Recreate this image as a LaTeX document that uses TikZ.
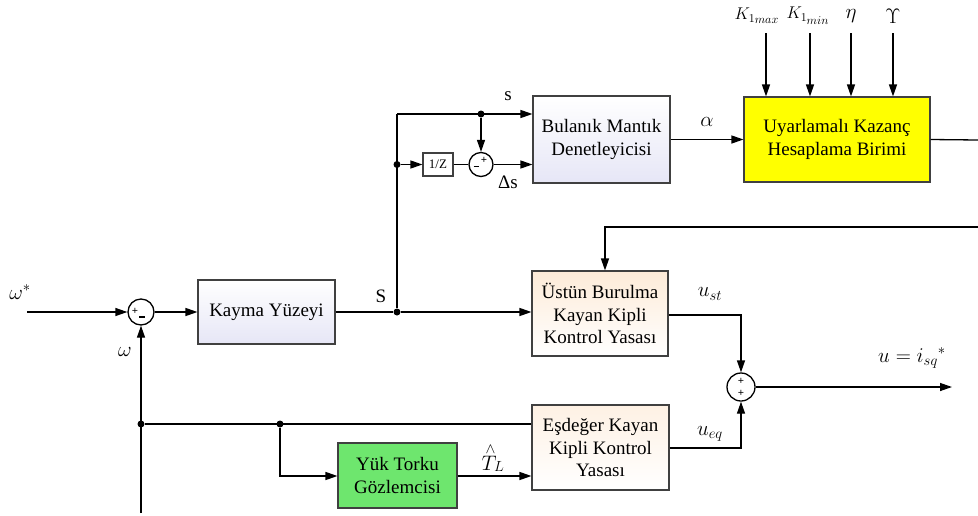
\documentclass[tikz,border=0pt]{standalone}
\usepackage{fix-cm}
\usepackage{fontspec}
\setmainfont{Liberation Serif}
\usetikzlibrary{arrows.meta,shapes.geometric,calc}
\definecolor{lav}{HTML}{E6E6F6}
\definecolor{peach}{HTML}{FDEBD8}
\definecolor{yel}{HTML}{FFFF00}
\definecolor{grn}{HTML}{6EE66E}
\begin{document}
\begin{tikzpicture}[x=1pt,y=-1pt,
  conn/.style={line width=1.3pt},
  arr/.style={conn,-{Triangle[length=12pt,width=8pt]}},
  blk/.style={draw=black!75,line width=1.1pt,align=center,inner sep=2pt,
    font=\fontsize{19}{22.5}\selectfont},
  sumc/.style={circle,draw,line width=1.3pt,inner sep=0pt},
  dot/.style={circle,fill,inner sep=0pt,minimum size=7pt},
  lbl/.style={font=\fontsize{19}{22}\selectfont,inner sep=0pt},
  klbl/.style={font=\fontsize{17}{20}\selectfont,inner sep=0pt},
  mlbl/.style={font=\fontsize{21}{24}\selectfont,inner sep=0pt},
  sgn/.style={font=\fontsize{11}{11}\selectfont\bfseries,inner sep=0pt}]
\useasboundingbox (0,0) rectangle (978,515);

% blocks
\node[blk,minimum width=137pt,minimum height=64pt,top color=white,bottom color=lav] (kayma) at (266.5,312) {Kayma Yüzeyi};
\node[blk,minimum width=137pt,minimum height=87pt,top color=white,bottom color=lav] (bulanik) at (601.5,139.5) {Bulanık Mantık\\Denetleyicisi};
\node[blk,minimum width=186pt,minimum height=85pt,fill=yel] (uyar) at (837,139.5) {Uyarlamalı Kazanç\\Hesaplama Birimi};
\node[blk,minimum width=136pt,minimum height=85pt,top color=peach,bottom color=white] (ustun) at (600,313.5) {Üstün Burulma\\Kayan Kipli\\Kontrol Yasası};
\node[blk,minimum width=137pt,minimum height=85pt,top color=peach!70,bottom color=white] (esd) at (600.5,447.5) {Eşdeğer Kayan\\Kipli Kontrol\\Yasası};
\node[blk,minimum width=119pt,minimum height=65pt,fill=grn] (yuk) at (397.5,475.5) {Yük Torku\\Gözlemcisi};
\node[blk,minimum width=30pt,minimum height=23pt,inner sep=1pt,font=\fontsize{13}{13}\selectfont] (delay) at (438,164.5) {1/Z};

% summing junctions
\node[sumc,minimum size=26pt] (sum1) at (141,312) {};
\node[sgn] at ($(sum1)+(-6,-1)$) {+};
\node[sgn] at ($(sum1)+(1,5)$) {\rule{6pt}{1.2pt}};
\node[sumc,minimum size=24pt] (sum3) at (481,164.5) {};
\node[sgn] at ($(sum3)+(-5,2)$) {\rule{5pt}{1.2pt}};
\node[sgn] at ($(sum3)+(3,-4)$) {+};
\node[sumc,minimum size=28pt] (sum2) at (741,387) {};
\node[sgn] at ($(sum2)+(0,-6)$) {+};
\node[sgn] at ($(sum2)+(0,6)$) {+};

% coordinates
\coordinate (win) at (27,312);
\coordinate (wfb) at (141,513);
\node[dot] (j1) at (397,312) {};
\coordinate (c1) at (397,114);
\node[dot] (j2) at (481,114) {};
\node[dot] (j3) at (397,164.5) {};
\node[dot] (j4) at (141,424) {};
\node[dot] (j5) at (280,424) {};
\coordinate (outa) at (978,140);
\coordinate (fbr) at (978,227);
\coordinate (fbc) at (605,227);
\coordinate (uout) at (952,387);
\coordinate (k1) at (766,33);
\coordinate (k2) at (810,33);
\coordinate (k3) at (851,33);
\coordinate (k4) at (893,33);

% connectors
\draw[arr] (win) -- (sum1.west);
\draw[arr] (sum1.east) -- (kayma.west);
\draw[arr] (kayma.east) -- (j1) -- (ustun.west |- j1);
\draw[conn] (j1) -- (c1);
\draw[arr] (c1) -- (bulanik.west |- c1);
\draw[arr] (j2) -- (sum3.north);
\draw[arr] (j3) -- (delay.west);
\draw[conn] (delay.east) -- (sum3.west);
\draw[arr] (sum3.east) -- (bulanik.west |- sum3);
\draw[arr] (bulanik.east) -- (uyar.west);
\draw[arr] (k1) -- (k1 |- uyar.north);
\draw[arr] (k2) -- (k2 |- uyar.north);
\draw[arr] (k3) -- (k3 |- uyar.north);
\draw[arr] (k4) -- (k4 |- uyar.north);
\draw[conn] (uyar.east) -- (outa);
\draw[arr] (fbr) -- (fbc) -- (fbc |- ustun.north);
\draw[arr] (ustun.east |- 0,315) -- (741,315) -- (sum2.north);
\draw[arr] (esd.east |- 0,448) -- (741,448) -- (sum2.south);
\draw[arr] (sum2.east) -- (uout);
\draw[arr] (wfb) -- (sum1.south);
\draw[conn] (j4) -- (esd.west |- j4);
\draw[arr] (j5) -- (280,476) -- (yuk.west |- 0,476);
\draw[arr] (yuk.east |- 0,476) -- (esd.west |- 0,476);

% labels
\node[mlbl] at (20,292) {$\omega^{*}$};
\node[mlbl] at (125,352) {$\omega$};
\node[lbl] at (381,296) {S};
\node[lbl] at (508,96) {s};
\node[lbl] at (508,182) {Δs};
\node[mlbl] at (707,122) {$\alpha$};
\node[klbl] at (757,16) {$K_{1_{\scriptstyle max}}$};
\node[klbl] at (808,16) {$K_{1_{\scriptstyle min}}$};
\node[mlbl] at (851,16) {$\eta$};
\node[mlbl] at (893,16) {$\Upsilon$};
\node[mlbl] at (710,294) {$u_{st}$};
\node[mlbl] at (912,358) {$u = {i_{sq}}^{*}$};
\node[mlbl] at (710,434) {$u_{eq}$};
\node[mlbl] at (493,458) {$\stackrel{\wedge}{T}_{\!L}$};
\end{tikzpicture}
\end{document}
